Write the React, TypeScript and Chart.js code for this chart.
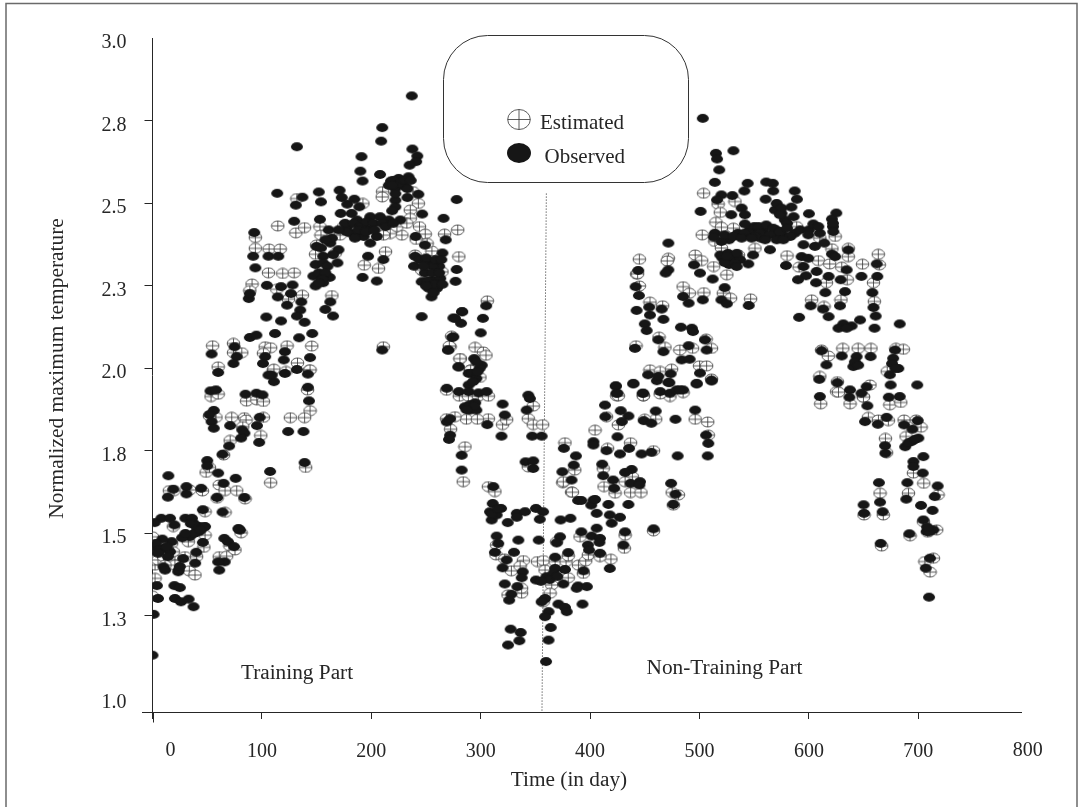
import React, { useEffect, useRef } from "react";
import { Chart, registerables } from "chart.js";

Chart.register(...registerables);

type P = [number, number];

const observedFirstPeak: P[] = [
  [237,2.826],[210,2.73],[209,2.689],[132,2.672],[237.5,2.665],[242,2.644],[241,2.627],[235,2.616],[191,2.642],[190,2.598],[192,2.568],[208,2.588],
  [218,2.568],[225,2.576],[234,2.581],[228,2.561],[222,2.546],[231,2.551],[223.5,2.566],[278,2.512],[266,2.455],[114,2.531],[137,2.519],[131,2.495],
  [152,2.535],[154,2.505],[171,2.54],[173,2.518],[178,2.498],[184.5,2.513],[189,2.49],[172,2.47],[222,2.51],[222,2.49],[219,2.478],[233,2.518],[243,2.528],
  [246.5,2.468],[153,2.452],[129.5,2.446],[93,2.412],[182,2.47],[187,2.45],[199,2.46],[208,2.46],[216,2.45],[226.5,2.45],[193,2.43],[181,2.41],[199,2.42],
  [187,2.4],[205,2.4],[199,2.38],[193,2.4],[178,2.43],[211,2.33],[197,2.34],[192,2.276],[205,2.265],[161,2.42],[150,2.37],[162.5,2.38],[170,2.36],[156,2.34],
  [169,2.32],[149,2.315],[156,2.32],[147,2.28],[162,2.276],[149,2.25],[156,2.26],[240.5,2.4],[249,2.374],[268,2.39],[265,2.35],[239,2.31],[240,2.34],[253,2.32],
  [262,2.31],[278,2.3],[277,2.264],[246,2.263],[255.5,2.268],[263,2.273],[252.5,2.243],[260,2.243],[255,2.217],[94,2.305],[106,2.34],[115,2.34],[92,2.34],
  [104.5,2.252],[117.5,2.248],[128,2.253],[126.5,2.227],[114.5,2.217],[123,2.192],[136,2.202],[88,2.212],[89,2.227],[135,2.177],[132,2.159],[139,2.14],
  [162.5,2.202],[158,2.179],[165,2.159],[104,2.156],[117.5,2.144],[246,2.157],[283,2.172],[275,2.153],[282,2.137],[89,2.094],[95,2.101],[112,2.106],[134,2.093],
  [146,2.106],[275,2.096],[54,2.044],[75,2.066],[270,2.056],[210,2.056],[77,2.036],[74,2.015],[103,2.036],[101,2.015],[121,2.051],[120,2.026],[144,2.033],[280,2.005],
  [60,1.988],[106,1.98],[121,1.985],[132,1.997],[142,1.983],[289,1.985],
];

const observedPeakClusters: P[] = [
  [176,2.44],[184,2.44],[190,2.43],[196,2.445],[202,2.44],[188,2.42],[195,2.415],[203,2.42],[210,2.44],[213,2.43],[220,2.44],[185,2.395],[177,2.415],[170,2.42],
  [216,2.555],[220,2.57],[226,2.56],[230,2.57],[236,2.57],[219,2.555],[233,2.545],[222,2.53],
  [164,2.395],[158,2.39],[154,2.365],[165,2.345],[160,2.31],[152,2.29],[158,2.29],[155,2.27],[152,2.26],
  [244,2.33],[250,2.335],[256,2.31],[259,2.33],[264,2.33],[249,2.29],[256,2.29],[262,2.29],[251,2.265],[258,2.255],[265,2.255],[250,2.25],[257,2.23],[248,2.31],
  [546,2.42],[550,2.43],[558,2.42],[552,2.41],[558,2.405],[545,2.41],[568,2.41],[576,2.405],[570,2.42],[535,2.41],[541,2.41],[556,2.395],[527,2.39],[520,2.385],
  [521,2.335],[530,2.335],[537,2.33],[527,2.315],[514,2.41],
  [575,2.47],[578,2.45],[569,2.48],[580,2.44],[587,2.41],[592,2.42],
  [622,2.43],[610,2.41],[614,2.38],[600,2.42],
];

const observedFirstRise: P[] = [
  [111,1.96],[109,1.98],[142,1.943],[143,1.902],[53,1.932],[58,1.935],[85,1.922],[95,1.925],[100.5,1.92],[56,1.873],[52,1.86],[54,1.839],[56,1.819],[71,1.827],
  [82,1.814],[84,1.804],[81,1.789],[98,1.852],[95.5,1.827],[124,1.809],[138,1.809],[97.5,1.776],[70,1.765],[64,1.74],[50,1.721],[50,1.705],[139,1.715],[60,1.683],
  [107.5,1.688],[14.5,1.675],[76,1.667],[65,1.652],[31,1.642],[44.5,1.637],[19,1.634],[14,1.61],[31,1.62],[59,1.609],[84,1.609],[46,1.572],[64,1.565],[79,1.513],
  [8,1.546],[16,1.546],[30,1.546],[36,1.546],[2,1.533],[20,1.526],[37.5,1.531],[43,1.521],[48,1.521],[39,1.525],[47,1.52],[42,1.505],[34,1.49],[27,1.487],[17.5,1.475],
  [9,1.483],[46,1.473],[2,1.46],[10,1.455],[16,1.445],[40,1.443],[28,1.424],[39,1.41],[10,1.399],[23.5,1.384],[11.5,1.389],[4,1.342],[20,1.342],[25,1.336],[5,1.303],
  [20.5,1.303],[26,1.293],[33,1.301],[37.5,1.278],[1,1.255],[0,1.131],[80,1.51],[78.5,1.515],[65.6,1.485],[69,1.475],[74.5,1.46],[66,1.414],[60,1.414],[61,1.389],
  [3,1.47],[6,1.45],[13,1.46],[5,1.44],[14,1.43],[24,1.39],[25,1.4],[35,1.53],[41,1.515],[38,1.5],[30,1.5],[44,1.51],
];

const observedFallAndTrough: P[] = [
  [305,2.19],[283,2.172],[276.5,2.152],[302,2.152],[300,2.108],[274,2.094],[270.4,2.056],[279.5,2.005],[294,2.03],[301,2.01],[299,2],[292,1.985],[296,1.97],[289,1.95],
  [269,1.94],[280,1.93],[289,1.93],[298,1.926],[305.4,1.93],[295,1.896],[285.6,1.884],[290,1.874],[296,1.874],[269,1.838],[272,1.848],[272,1.798],[271,1.785],[282.6,1.737],
  [343.5,1.919],[345,1.909],[342,1.874],[320,1.892],[322,1.859],[306,1.83],[319,1.795],[347,1.795],[355.7,1.795],[341,1.717],[348,1.72],[348,1.697],[282.6,1.692],
  [311.5,1.642],[311,1.591],[318.6,1.576],[308.5,1.566],[310,1.541],[314.6,1.556],[324.7,1.533],[333,1.561],[340.5,1.566],[333,1.549],[350.5,1.576],[357,1.566],[354,1.543],
  [373,1.541],[382,1.546],[389,1.6],[392,1.6],[403,1.601],[401,1.586],[406,1.561],[314.6,1.492],[316,1.47],[334.4,1.48],[353,1.48],[372.5,1.49],[369.5,1.472],[392,1.505],
  [406,1.516],[401.4,1.492],[409,1.485],[398,1.465],[399,1.45],[313,1.443],[330.4,1.443],[380,1.442],[368,1.428],[409,1.44],[323.7,1.42],[320,1.396],[338.4,1.384],[337.5,1.366],
  [377,1.391],[368,1.394],[394,1.387],[322,1.347],[333.5,1.339],[350.5,1.359],[360,1.369],[366.4,1.379],[375.5,1.347],[389,1.341],[397,1.339],[387.7,1.334],[328,1.316],[326,1.298],
  [358.8,1.303],[355.7,1.293],[371,1.286],[377,1.276],[378.6,1.263],[393,1.286],[362,1.263],[358.8,1.248],[327.4,1.21],[336.5,1.2],[335.3,1.175],[325,1.162],[364,1.215],[362,1.177],[359.7,1.112],
  [290,1.89],[294,1.885],[287,1.875],[293,1.96],[297,1.99],[296,2.02],[363,1.36],[370,1.37],[355,1.355],[310,1.56],[316,1.575],
];

const observedSecondRise: P[] = [
  [423.4,1.947],[424,1.925],[439.5,1.955],[448,1.925],[464,1.93],[473,1.925],[485,1.935],[497.4,1.953],[511,1.962],[461,1.963],[472.4,1.957],[479,1.935],[413.6,1.889],[414,1.854],
  [428,1.872],[435,1.856],[429,1.839],[449,1.842],[460,1.871],[456,1.834],[478,1.846],[496,1.874],[376,1.758],[403,1.778],[403,1.768],[425,1.793],[415,1.751],[427.3,1.741],[435.6,1.758],
  [447,1.741],[456,1.746],[480,1.735],[507.5,1.735],[508,1.773],[506,1.798],[387,1.735],[385,1.707],[374.6,1.687],[383,1.662],[411,1.71],[412,1.675],[421,1.662],[422,1.637],[438,1.694],
  [432,1.685],[437,1.652],[445.6,1.657],[445,1.647],[474,1.652],[478,1.619],[476,1.588],[458,1.514],[435,1.588],[416.7,1.588],[404.5,1.603],[432,1.505],[430.4,1.465],[418,1.556],[427.3,1.549],
  [419.7,1.531],[408.5,1.473],[418,1.394],
];

const observedSecondPeak: P[] = [
  [503,2.758],[531,2.66],[515,2.652],[516,2.635],[518,2.602],[514,2.564],[544,2.561],[541,2.538],[561,2.565],[567,2.561],[567.4,2.538],[587,2.538],[589,2.513],[560.4,2.513],[520,2.526],[530,2.524],
  [516,2.511],[501,2.476],[538.5,2.486],[541.5,2.466],[529,2.466],[570.5,2.5],[575,2.486],[584,2.489],[586,2.46],[573.5,2.466],[600,2.469],[625,2.471],[621,2.453],[604,2.438],[608.6,2.43],[622,2.44],
  [622.3,2.415],[541.5,2.438],[554,2.43],[561,2.435],[567.4,2.425],[555,2.41],[564.4,2.405],[573.5,2.415],[580,2.425],[551,2.4],[570.5,2.39],[583,2.4],[560,2.39],[576.6,2.39],[513,2.398],[523,2.405],
  [531,2.4],[538.5,2.395],[547.6,2.395],[564.4,2.36],[471.5,2.38],[519,2.344],[526,2.349],[534,2.349],[549,2.344],[523,2.321],[532.4,2.319],[534,2.309],[544.6,2.317],[525,2.34],[599.4,2.405],[595,2.375],
  [605.5,2.37],[593.3,2.339],[599.4,2.334],[595,2.309],[579,2.312],[621,2.347],[624,2.339],[636,2.359],[634.5,2.299],[607,2.294],[597.3,2.281],[590,2.269],[606.5,2.26],[618,2.279],[629,2.269],[648,2.279],
  [662.5,2.279],[662,2.317],[658,2.23],[615,2.23],[633,2.233],[601.6,2.19],[628.4,2.19],[659,2.185],[661,2.159],[613,2.18],[618,2.157],[591,2.155],[683,2.135],[660,2.122],[646.7,2.147],[639,2.129],
  [631.4,2.135],[627,2.122],[634.5,2.122],[495,2.314],[500.4,2.289],[512,2.271],[471.5,2.299],[469,2.289],[523,2.245],[485,2.218],[490,2.198],[503,2.208],[520,2.208],[525,2.196],[545,2.191],[444,2.297],
  [441.6,2.248],[444.6,2.221],[454,2.186],[465.4,2.18],[442.5,2.176],[454.7,2.162],[467,2.149],[450,2.135],[451.7,2.115],[483,2.125],[493,2.122],[494,2.112],[441,2.061],[462.3,2.087],[467,2.051],[490,2.069],
  [505,2.087],[506.5,2.056],[483.7,2.026],[491,2.028],[453,1.981],[462.3,1.976],[500.4,1.986],[473.6,1.984],[471.5,1.958],[497.4,1.955],[511,1.965],[439.5,1.953],[423.6,1.947],[425,1.925],[448.6,1.925],[482,1.935],
];

const observedFinalFall: P[] = [
  [611.6,2.054],[630,2.038],[643.6,2.036],[640.6,2.006],[656.4,2.036],[678.7,2.056],[677,2.031],[681.7,2],[674,1.981],[616,2.011],[609.5,1.967],[674.7,1.95],[699,1.95],[626,1.957],[637.5,1.935],[652.8,1.945],
  [648,1.925],[610,1.915],[673,1.913],[683,1.915],[637,1.913],[653.4,1.887],[651.3,1.839],[663,1.831],[671,1.852],[687,1.829],[699.4,1.842],[694.6,1.816],[700,1.789],[694,1.779],[688,1.763],[669.6,1.766],
  [670,1.743],[704.6,1.733],[695.5,1.718],[695.5,1.703],[704,1.683],[664,1.654],[690,1.654],[717.7,1.644],[715,1.612],[689,1.604],[665,1.595],[702.5,1.585],[713,1.57],[650,1.587],[650.4,1.561],[667.4,1.566],
  [704.6,1.541],[713.8,1.511],[707.7,1.506],[691.8,1.499],[665.6,1.47],[710.7,1.425],[706.8,1.395],[709.8,1.307],
  [642,2.02],[645,2.01],[676,2.015],[679,2.0],[691,1.775],[697,1.785],[710,1.505],[708,1.52],
];

const estimatedFirstPeak: P[] = [
  [210.3,2.536],[210,2.52],[238,2.536],[243,2.5],[192.3,2.5],[132,2.515],[235.6,2.48],[235.6,2.455],[114.5,2.432],[131,2.411],[139,2.427],[94,2.397],[94,2.364],[106.6,2.362],[116.7,2.362],[153,2.43],[154,2.404],
  [149,2.346],[150,2.374],[244,2.43],[249.3,2.407],[228,2.404],[241,2.391],[267,2.407],[279,2.42],[280,2.339],[213,2.354],[193.5,2.313],[206.6,2.303],[240,2.344],[255.4,2.356],[248,2.313],[248,2.293],[106,2.29],
  [119,2.288],[129.5,2.29],[91,2.256],[89,2.236],[137,2.222],[164,2.221],[113.6,2.24],[124.3,2.21],[55,2.069],[60,2.005],[74,2.076],[74,2.048],[81.6,2.048],[103,2.066],[108,2.063],[123,2.069],[145.6,2.068],
  [132.5,2.017],[143.5,1.995],[110.5,1.995],[211,2.066],[272,2.066],[281.4,2.03],[290.5,1.995],[101.4,2.046],[217.3,2.409],[223.4,2.43],[232.5,2.44],[211.2,2.404],[174.6,2.43],[171.5,2.404],[167,2.349],[156.3,2.298],
  [251,2.379],[257,2.298],[264.6,2.293],[246,2.298],
];

const estimatedFirstRise: P[] = [
  [53.5,1.915],[60,1.922],[86,1.901],[95.3,1.905],[101.4,1.9],[111,1.998],[122,1.991],[144,1.996],[141.7,1.935],[144,1.872],[139,1.851],[126,1.851],[72.4,1.852],[84,1.851],[85.5,1.844],[58,1.852],[52,1.856],[101.4,1.852],
  [82.5,1.824],[71,1.782],[99,1.797],[49,1.685],[52,1.7],[140,1.7],[108,1.654],[61,1.647],[66.3,1.63],[77,1.63],[45.6,1.629],[15.4,1.63],[34,1.632],[19.7,1.63],[65,1.738],[59,1.607],[84.6,1.605],[48,1.566],[66.3,1.564],
  [19,1.521],[0,1.49],[4,1.424],[2.3,1.404],[2.3,1.364],[0,1.31],[17.5,1.47],[20.5,1.42],[29.7,1.43],[33.6,1.387],[38.8,1.374],[20.5,1.404],[47,1.458],[40.3,1.43],[61,1.43],[67.8,1.431],[70.8,1.462],[75.4,1.45],[80.9,1.502],
  [32.7,1.475],[48,1.495],[5,1.42],[10,1.43],[11.4,1.404],[19,1.445],
];

const estimatedFallAndTrough: P[] = [
  [306,2.205],[273.4,2.098],[271.3,2.068],[294.8,2.064],[302.4,2.05],[304.8,2.04],[281,2.03],[290.8,1.995],[299.3,1.973],[268.9,1.934],[280.4,1.916],[288.7,1.916],[297.8,1.916],[307,1.916],[348,1.886],[343.5,1.848],[348,1.83],
  [356.6,1.83],[307,1.848],[320,1.83],[323.7,1.845],[287,1.846],[296.9,1.846],[268.9,1.848],[272.5,1.816],[285.6,1.763],[276.5,1.854],[343.5,1.702],[284,1.657],[307,1.642],[313,1.627],[375,1.654],[383,1.625],[314.6,1.465],
  [314,1.435],[322,1.423],[339,1.418],[351.8,1.415],[357.3,1.418],[368,1.415],[378,1.415],[328,1.387],[336,1.401],[358.8,1.389],[372.5,1.374],[380,1.366],[364.9,1.344],[363.4,1.319],[337.4,1.319],[325,1.314],[337.4,1.334],
  [389.3,1.404],[396,1.417],[393.8,1.379],[369.4,1.475],[390.8,1.49],[398.4,1.435],[409,1.435],[380,1.432],[357,1.293],
];

const estimatedSecondRise: P[] = [
  [404.5,1.813],[377,1.775],[386,1.692],[375.5,1.657],[383.8,1.625],[415,1.854],[425.8,1.829],[416,1.758],[437,1.775],[458,1.751],[496,1.846],[507.5,1.838],[460,1.846],[450,1.846],[508,1.798],[412,1.697],[412.7,1.642],[422.8,1.622],
  [437,1.624],[446.5,1.624],[438.6,1.672],[432,1.657],[475,1.624],[480.7,1.617],[424.3,1.917],[448.7,1.917],[473,1.915],[464,1.923],[485,1.927],[476,1.586],[432,1.495],[431.3,1.455],[458,1.508],[419,1.422],[409,1.43],
];

const estimatedSecondPeak: P[] = [
  [503.8,2.531],[517,2.498],[532.4,2.506],[519,2.473],[515,2.443],[531,2.425],[502.5,2.405],[520,2.428],[588.8,2.43],[514,2.385],[520,2.365],[496,2.344],[502,2.327],[471.5,2.334],[470.5,2.326],[445,2.331],[442.5,2.286],[513,2.309],
  [525,2.284],[580,2.342],[591,2.307],[608.6,2.327],[619,2.317],[630,2.307],[649,2.316],[663.4,2.346],[664.3,2.314],[659,2.26],[616,2.26],[635,2.269],[636,2.364],[636,2.339],[621,2.363],[610,2.395],[624,2.4],[550.7,2.364],[535.5,2.344],
  [485,2.248],[490.7,2.228],[504,2.23],[521.7,2.228],[528.4,2.213],[546.7,2.211],[602.5,2.208],[629.3,2.208],[659.8,2.203],[613.8,2.188],[454.7,2.201],[466.3,2.19],[445,2.25],[443.4,2.287],[482,2.056],[493.7,2.061],[511,2.061],[468.4,2.064],
  [442,2.069],[463,2.095],[506,2.089],[454.7,1.996],[464,1.991],[474.5,1.998],[500,2.008],[506.5,2.008],[511,1.968],[425.8,1.917],[448.6,1.917],
];

const estimatedFinalFall: P[] = [
  [610,1.976],[611.6,2.056],[617.7,2.038],[631,2.061],[645,2.061],[656.7,2.061],[679.6,2.061],[686.3,2.058],[671.6,1.991],[625.3,1.93],[649.7,1.915],[655.8,1.95],[626,1.96],[627,1.928],[610.8,1.893],[637.6,1.893],[649.8,1.913],[674,1.89],
  [684,1.897],[654.3,1.852],[663.5,1.844],[672.6,1.842],[687,1.844],[702.5,1.822],[698,1.844],[669.9,1.788],[688.8,1.794],[671,1.745],[695.5,1.683],[705,1.652],[665,1.622],[691,1.622],[718,1.617],[666.5,1.462],[692.4,1.493],[708.6,1.504],
  [716.8,1.511],[706,1.415],[710.7,1.383],[713.8,1.425],[650.4,1.556],[668,1.556],[704.6,1.536],
];

const dividerLine: P[] = [[360, 2.53], [356, 0.959]];

const xTickValues = [0, 100, 200, 300, 400, 500, 600, 700];
const yTickValues = [1, 1.25, 1.5, 1.75, 2, 2.25, 2.5, 2.75, 3];
const unmarkedYTicks = [1, 3];

const SERIF = '"Liberation Serif", "Times New Roman", serif';
const INK = "#262626";

const toXY = (list: P[]) => list.map(([x, y]) => ({ x, y }));

function ellipseSprite(rx: number, ry: number, crossed: boolean): HTMLCanvasElement {
  const c = document.createElement("canvas");
  c.width = Math.ceil(rx * 2) + 2;
  c.height = Math.ceil(ry * 2) + 2;
  drawMark(c.getContext("2d")!, c.width / 2, c.height / 2, rx, ry, crossed);
  return c;
}

function drawMark(g: CanvasRenderingContext2D, cx: number, cy: number, rx: number, ry: number, crossed: boolean) {
  g.beginPath();
  g.ellipse(cx, cy, rx, ry, 0, 0, Math.PI * 2);
  if (crossed) {
    g.fillStyle = "#fff";
    g.fill();
    g.strokeStyle = "#333";
    g.lineWidth = 0.8;
    g.stroke();
    g.beginPath();
    g.moveTo(cx - rx, cy);
    g.lineTo(cx + rx, cy);
    g.moveTo(cx, cy - ry);
    g.lineTo(cx, cy + ry);
    g.stroke();
  } else {
    g.fillStyle = "#161616";
    g.fill();
  }
}

const decorations = {
  id: "decorations",
  afterDraw(chart: any) {
    const g: CanvasRenderingContext2D = chart.ctx;
    const xs = chart.scales.x;
    const left = chart.chartArea.left;
    const bottom = chart.chartArea.bottom;
    g.save();
    // page frame, open at the bottom
    g.strokeStyle = "#6a6a6a";
    g.lineWidth = 1.5;
    g.beginPath();
    g.moveTo(6, 807);
    g.lineTo(6, 3.5);
    g.lineTo(1077, 3.5);
    g.lineTo(1077, 807);
    g.stroke();
    // axis stubs past the crossing
    g.strokeStyle = INK;
    g.lineWidth = 1;
    g.beginPath();
    g.moveTo(left - 10.5, Math.round(bottom) + 0.5);
    g.lineTo(left, Math.round(bottom) + 0.5);
    g.moveTo(Math.round(left) + 0.5, bottom);
    g.lineTo(Math.round(left) + 0.5, bottom + 10.5);
    g.stroke();
    // labels with the reference's own offsets
    g.fillStyle = INK;
    g.textBaseline = "middle";
    g.textAlign = "center";
    g.font = `20px ${SERIF}`;
    g.fillText("0", xs.getPixelForValue(0) + 18, 751);
    g.fillText("800", xs.getPixelForValue(800), 751);
    g.font = `21.3px ${SERIF}`;
    g.fillText("Time (in day)", 569, 780);
    g.fillText("Training Part", 297, 673);
    g.fillText("Non-Training Part", 724.5, 668);
    g.save();
    g.translate(57, 368.5);
    g.rotate(-Math.PI / 2);
    g.font = `21.4px ${SERIF}`;
    g.fillText("Normalized maximum temperature", 0, 0);
    g.restore();
    // legend box
    g.beginPath();
    g.roundRect(443.5, 35.5, 245, 147, 44);
    g.fillStyle = "#fff";
    g.fill();
    g.strokeStyle = "#333";
    g.lineWidth = 1;
    g.stroke();
    drawMark(g, 519, 119.5, 11.3, 10, true);
    drawMark(g, 519, 153, 12, 10, false);
    g.fillStyle = INK;
    g.textAlign = "left";
    g.font = `21px ${SERIF}`;
    g.fillText("Estimated", 540, 123);
    g.fillText("Observed", 544.5, 157);
    g.restore();
  },
};

export default function App() {
  const ref = useRef<HTMLCanvasElement>(null);
  useEffect(() => {
    const estimatedSprite = ellipseSprite(6.3, 5, true);
    const observedSprite = ellipseSprite(6, 4.4, false);
    const observed = [
      ...observedFirstPeak, ...observedPeakClusters, ...observedFirstRise, ...observedFallAndTrough,
      ...observedSecondRise, ...observedSecondPeak, ...observedFinalFall,
    ];
    const estimated = [
      ...estimatedFirstPeak, ...estimatedFirstRise, ...estimatedFallAndTrough,
      ...estimatedSecondRise, ...estimatedSecondPeak, ...estimatedFinalFall,
    ];
    const chart = new Chart(ref.current!, {
      type: "scatter",
      data: {
        datasets: [
          { label: "Observed", data: toXY(observed), pointStyle: observedSprite as any, order: 0 },
          { label: "Estimated", data: toXY(estimated), pointStyle: estimatedSprite as any, order: 1 },
          {
            label: "Split",
            data: toXY(dividerLine),
            showLine: true,
            borderColor: "#222",
            borderWidth: 1,
            borderDash: [1, 2],
            pointRadius: 0,
            clip: false,
            order: 2,
          } as any,
        ],
      },
      options: {
        responsive: false,
        animation: false,
        devicePixelRatio: 1,
        layout: { padding: { left: 0, top: 38.5, right: 56.3, bottom: 0 } },
        plugins: { legend: { display: false }, tooltip: { enabled: false }, title: { display: false } },
        scales: {
          x: {
            type: "linear",
            min: 0,
            max: 794.5,
            afterFit: (s: any) => { s.height = 95; },
            afterBuildTicks: (s: any) => { s.ticks = xTickValues.map((value) => ({ value })); },
            border: { display: true, color: INK, width: 1 },
            grid: { drawOnChartArea: false, drawTicks: true, tickLength: 7, tickColor: INK },
            ticks: {
              color: INK,
              font: { family: SERIF, size: 20 },
              padding: 21,
              autoSkip: false,
              maxRotation: 0,
              callback: (v: any) => (Number(v) === 0 ? "" : String(v)),
            },
          },
          y: {
            type: "linear",
            min: 0.959,
            max: 3,
            afterFit: (s: any) => { s.width = 152.5; },
            afterBuildTicks: (s: any) => { s.ticks = yTickValues.map((value) => ({ value })); },
            border: { display: true, color: INK, width: 1 },
            grid: {
              drawOnChartArea: false,
              drawTicks: true,
              tickLength: 8,
              tickColor: (c: any) => (unmarkedYTicks.includes(c.tick?.value) ? "rgba(0,0,0,0)" : INK),
            },
            ticks: {
              color: INK,
              font: { family: SERIF, size: 20 },
              padding: 18,
              labelOffset: 4.5,
              autoSkip: false,
              callback: (v: any) => Number(v).toFixed(1),
            },
          },
        },
      },
      plugins: [decorations],
    } as any);
    return () => chart.destroy();
  }, []);
  return (
    <canvas
      ref={ref}
      width={1078}
      height={807}
      style={{ position: "absolute", left: 0, top: 0, width: 1078, height: 807, display: "block" }}
    />
  );
}
